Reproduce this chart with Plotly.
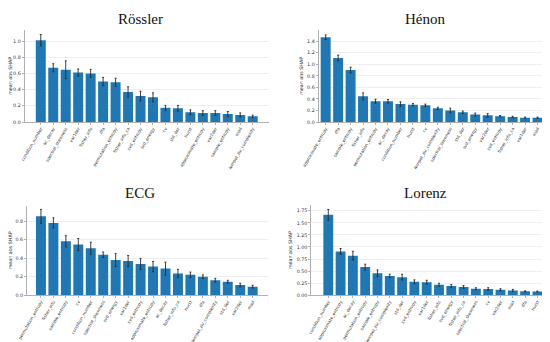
import plotly.graph_objects as go

W, H = 550, 342

# ---------------- data ----------------
rossler_features = ["condition_number", "ac_decay", "spectral_skewness", "var1der", "fisher_info", "dfa",
                    "permutation_entropy", "fisher_info_ca", "svd_entropy", "svd_energy", "cv", "std_der",
                    "hurst", "approximate_entropy", "var2der", "sample_entropy", "mad", "lempel_ziv_complexity"]
rossler_values = [1.01, 0.67, 0.645, 0.61, 0.60, 0.50, 0.49, 0.37, 0.32, 0.305, 0.175, 0.17,
                  0.12, 0.11, 0.11, 0.10, 0.087, 0.07]
rossler_errors = [0.07, 0.05, 0.11, 0.045, 0.05, 0.05, 0.05, 0.065, 0.06, 0.055, 0.03, 0.035,
                  0.03, 0.03, 0.03, 0.03, 0.025, 0.015]

henon_features = ["approximate_entropy", "dfa", "sample_entropy", "fisher_info", "permutation_entropy", "ac_decay",
                  "condition_number", "hurst", "cv", "lempel_ziv_complexity", "spectral_skewness", "std_der",
                  "svd_energy", "var2der", "svd_entropy", "fisher_info_ca", "var1der", "mad"]
henon_values = [1.47, 1.11, 0.90, 0.445, 0.36, 0.36, 0.31, 0.30, 0.29, 0.237, 0.20, 0.17,
                0.13, 0.115, 0.10, 0.087, 0.075, 0.075]
henon_errors = [0.04, 0.05, 0.05, 0.06, 0.035, 0.03, 0.04, 0.02, 0.02, 0.02, 0.04, 0.02,
                0.025, 0.03, 0.012, 0.012, 0.01, 0.01]

ecg_features = ["permutation_entropy", "fisher_info", "sample_entropy", "cv", "condition_number",
                "spectral_skewness", "svd_energy", "var1der", "svd_entropy", "approximate_entropy", "ac_decay",
                "fisher_info_ca", "hurst", "dfa", "lempel_ziv_complexity", "std_der", "var2der", "mad"]
ecg_values = [0.853, 0.782, 0.583, 0.548, 0.508, 0.437, 0.38, 0.37, 0.338, 0.31, 0.288,
              0.235, 0.22, 0.20, 0.163, 0.146, 0.11, 0.092]
ecg_errors = [0.075, 0.055, 0.06, 0.065, 0.065, 0.03, 0.07, 0.06, 0.06, 0.055, 0.07,
              0.045, 0.03, 0.02, 0.02, 0.015, 0.02, 0.015]

lorenz_features = ["condition_number", "approximate_entropy", "ac_decay", "permutation_entropy", "sample_entropy",
                   "lempel_ziv_complexity", "std_der", "svd_entropy", "var1der", "fisher_info", "svd_energy",
                   "fisher_info_ca", "spectral_skewness", "cv", "var2der", "mad", "dfa", "hurst"]
lorenz_values = [1.667, 0.908, 0.82, 0.583, 0.454, 0.40, 0.373, 0.278, 0.27, 0.217, 0.19,
                 0.17, 0.135, 0.13, 0.115, 0.10, 0.08, 0.075]
lorenz_errors = [0.11, 0.06, 0.09, 0.06, 0.07, 0.035, 0.06, 0.04, 0.04, 0.03, 0.03,
                 0.03, 0.02, 0.025, 0.02, 0.02, 0.01, 0.01]

titles = ["Rössler", "Hénon", "ECG", "Lorenz"]
y_tick_vals = {
    "Rössler": [0.0, 0.2, 0.4, 0.6, 0.8, 1.0],
    "Hénon": [0.0, 0.2, 0.4, 0.6, 0.8, 1.0, 1.2, 1.4],
    "ECG": [0.0, 0.2, 0.4, 0.6, 0.8],
    "Lorenz": [0.0, 0.25, 0.5, 0.75, 1.0, 1.25, 1.5, 1.75],
}
y_tick_fmt = {"Rössler": ".1f", "Hénon": ".1f", "ECG": ".1f", "Lorenz": ".2f"}

# ---------------- layout (pixel geometry) ----------------
panels = [
    # name, features, values, errors, x-domain px, y-domain px (top,bottom), xrange, yrange, title centre
    ("Rössler", rossler_features, rossler_values, rossler_errors, (16.7, 260.8), (21.7, 114.0),
     (-1.29, 18.29), (0, 1.14), (132, 11)),
    ("Hénon", henon_features, henon_values, henon_errors, (310.7, 545.0), (21.7, 114.0),
     (-0.56, 18.24), (0, 1.60), (417, 11)),
    ("ECG", ecg_features, ecg_values, ecg_errors, (19.0, 260.0), (197.5, 287.2),
     (-1.12, 18.23), (0, 0.97), (132, 185)),
    ("Lorenz", lorenz_features, lorenz_values, lorenz_errors, (303.3, 541.7), (197.0, 287.2),
     (-1.38, 18.0), (0, 1.87), (417, 185)),
]

fig = go.Figure()
annotations = []
layout_axes = {}

for i, (name, feats, vals, errs, xd, yd, xr, yr, tc) in enumerate(panels):
    idx = "" if i == 0 else str(i + 1)
    fig.add_trace(go.Bar(
        x=feats, y=vals,
        error_y=dict(type="data", array=errs, visible=True, color="#2b2b2b", thickness=0.9, width=1),
        marker=dict(color="#1f77b4", line=dict(width=0)),
        width=0.8,
        xaxis="x" + idx, yaxis="y" + idx,
        showlegend=False,
    ))
    layout_axes["xaxis" + idx] = dict(
        domain=[xd[0] / W, xd[1] / W],
        anchor="y" + idx,
        type="category",
        categoryorder="array", categoryarray=feats,
        range=list(xr),
        tickangle=-60,
        tickfont=dict(family="DejaVu Sans", size=4.2, color="#333333"),
        showline=True, linecolor="#b0b0b0", linewidth=1,
        ticks="outside", ticklen=1.5, tickcolor="#b0b0b0", tickwidth=0.8,
        showgrid=False, zeroline=False,
        automargin=False,
    )
    layout_axes["yaxis" + idx] = dict(
        domain=[1 - yd[1] / H, 1 - yd[0] / H],
        anchor="x" + idx,
        range=list(yr),
        tickvals=y_tick_vals[name],
        tickformat=y_tick_fmt[name],
        tickfont=dict(family="DejaVu Sans", size=4.8, color="#333333"),
        title=dict(text="mean abs SHAP", font=dict(family="DejaVu Sans", size=4.8, color="#333333"), standoff=3),
        showline=True, linecolor="#b0b0b0", linewidth=1,
        ticks="outside", ticklen=2, tickcolor="#b0b0b0", tickwidth=0.8,
        showgrid=True, gridcolor="#efefef", gridwidth=0.6,
        zeroline=False,
        automargin=False,
    )
    annotations.append(dict(
        text=name, x=tc[0] / W, y=1 - tc[1] / H, xref="paper", yref="paper",
        xanchor="center", yanchor="middle", showarrow=False,
        font=dict(family="Liberation Serif", size=15, color="#111111"),
    ))

fig.update_layout(
    width=W, height=H,
    margin=dict(l=0, r=0, t=0, b=0),
    paper_bgcolor="white", plot_bgcolor="white",
    annotations=annotations,
    **layout_axes,
)

fig.write_html("out.html")
